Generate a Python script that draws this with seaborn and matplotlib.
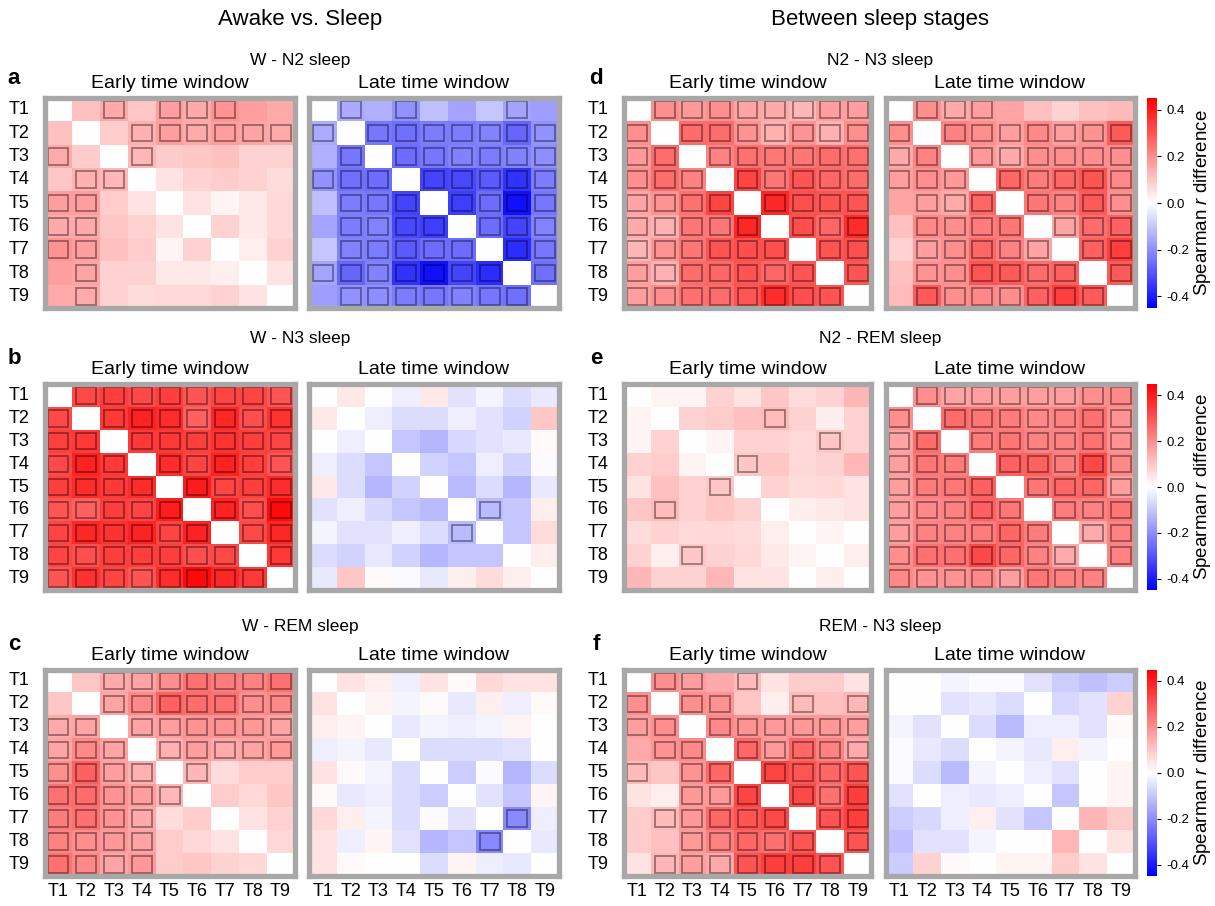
import numpy as np
import matplotlib
matplotlib.use("Agg")
from matplotlib import pyplot as plt
from matplotlib.patches import Rectangle
import seaborn as sns

plt.rcParams['font.family'] = ['Liberation Sans', 'DejaVu Sans']
plt.rcParams['mathtext.fontset'] = 'custom'
plt.rcParams['mathtext.it'] = 'Liberation Sans:italic'

labels = ['T1', 'T2', 'T3', 'T4', 'T5', 'T6', 'T7', 'T8', 'T9']

# upper triangles (row i holds cols i+1..9) of the spearman r difference
a_early = [[0.11, 0.15, 0.10, 0.17, 0.15, 0.19, 0.17, 0.15],
           [0.09, 0.14, 0.17, 0.15, 0.17, 0.16, 0.15],
           [0.13, 0.09, 0.10, 0.11, 0.08, 0.08],
           [0.05, 0.08, 0.09, 0.08, 0.06],
           [0.05, 0.02, 0.04, 0.07],
           [0.08, 0.04, 0.07],
           [0.03, 0.08],
           [0.05]]
a_late = [[-0.15, -0.14, -0.19, -0.11, -0.16, -0.10, -0.16, -0.17],
          [-0.24, -0.25, -0.23, -0.23, -0.22, -0.27, -0.19],
          [-0.26, -0.24, -0.22, -0.23, -0.22, -0.20],
          [-0.33, -0.32, -0.29, -0.36, -0.23],
          [-0.34, -0.26, -0.42, -0.24],
          [-0.26, -0.33, -0.22],
          [-0.37, -0.24],
          [-0.25]]
b_early = [[0.32, 0.34, 0.32, 0.34, 0.30, 0.33, 0.33, 0.30],
           [0.35, 0.39, 0.37, 0.28, 0.38, 0.31, 0.36],
           [0.35, 0.35, 0.34, 0.36, 0.34, 0.33],
           [0.37, 0.33, 0.39, 0.34, 0.30],
           [0.40, 0.33, 0.34, 0.37],
           [0.39, 0.31, 0.43],
           [0.32, 0.38],
           [0.35]]
b_late = [[0.04, 0.00, -0.03, 0.04, -0.05, -0.02, -0.06, -0.04],
          [-0.03, -0.06, -0.06, -0.03, -0.05, -0.08, 0.10],
          [-0.10, -0.13, -0.07, -0.05, -0.04, 0.01],
          [-0.08, -0.10, -0.03, -0.08, -0.01],
          [-0.12, -0.06, -0.13, -0.04],
          [-0.12, -0.10, 0.03],
          [-0.10, 0.06],
          [0.03]]
c_early = [[0.10, 0.15, 0.16, 0.20, 0.25, 0.23, 0.22, 0.25],
           [0.16, 0.21, 0.28, 0.26, 0.25, 0.20, 0.21],
           [0.16, 0.17, 0.19, 0.19, 0.18, 0.16],
           [0.14, 0.17, 0.15, 0.16, 0.18],
           [0.13, 0.06, 0.09, 0.09],
           [0.09, 0.07, 0.10],
           [0.05, 0.08],
           [0.07]]
c_late = [[0.05, 0.03, -0.03, 0.05, 0.01, 0.07, 0.05, 0.05],
          [0.02, -0.02, 0.01, -0.04, 0.03, -0.03, 0.01],
          [-0.04, -0.02, -0.03, -0.02, 0.02, 0.00],
          [-0.06, -0.06, -0.06, -0.05, 0.00],
          [-0.09, -0.01, -0.13, -0.06],
          [-0.05, -0.10, 0.02],
          [-0.21, -0.03],
          [-0.04]]
d_early = [[0.20, 0.18, 0.20, 0.16, 0.15, 0.13, 0.17, 0.17],
           [0.26, 0.26, 0.19, 0.14, 0.19, 0.14, 0.20],
           [0.22, 0.25, 0.24, 0.24, 0.26, 0.25],
           [0.33, 0.24, 0.30, 0.27, 0.26],
           [0.38, 0.31, 0.30, 0.30],
           [0.31, 0.27, 0.37],
           [0.30, 0.31],
           [0.30]]
d_late = [[0.20, 0.15, 0.17, 0.16, 0.11, 0.08, 0.11, 0.12],
          [0.22, 0.20, 0.17, 0.21, 0.17, 0.19, 0.29],
          [0.18, 0.15, 0.20, 0.20, 0.20, 0.20],
          [0.27, 0.23, 0.27, 0.30, 0.21],
          [0.24, 0.22, 0.29, 0.20],
          [0.16, 0.26, 0.28],
          [0.28, 0.34],
          [0.29]]
e_early = [[0.02, 0.02, 0.08, 0.05, 0.10, 0.06, 0.08, 0.13],
           [0.08, 0.09, 0.11, 0.12, 0.08, 0.03, 0.08],
           [0.02, 0.08, 0.08, 0.07, 0.10, 0.08],
           [0.10, 0.10, 0.07, 0.08, 0.13],
           [0.08, 0.06, 0.07, 0.05],
           [0.03, 0.04, 0.05],
           [0.02, 0.00],
           [0.03]]
e_late = [[0.20, 0.16, 0.17, 0.17, 0.17, 0.17, 0.20, 0.21],
          [0.26, 0.24, 0.23, 0.21, 0.22, 0.25, 0.19],
          [0.23, 0.24, 0.22, 0.22, 0.25, 0.19],
          [0.28, 0.28, 0.23, 0.32, 0.21],
          [0.24, 0.27, 0.27, 0.17],
          [0.23, 0.22, 0.24],
          [0.15, 0.22],
          [0.22]]
f_early = [[0.20, 0.17, 0.15, 0.12, 0.05, 0.09, 0.09, 0.05],
           [0.20, 0.19, 0.10, 0.03, 0.12, 0.11, 0.13],
           [0.21, 0.19, 0.18, 0.18, 0.18, 0.17],
           [0.27, 0.18, 0.27, 0.22, 0.15],
           [0.33, 0.30, 0.27, 0.30],
           [0.32, 0.25, 0.34],
           [0.30, 0.34],
           [0.30]]
f_late = [[0.00, -0.02, -0.01, -0.01, -0.05, -0.09, -0.11, -0.09],
          [-0.05, -0.04, -0.06, 0.00, -0.07, -0.05, 0.08],
          [-0.06, -0.12, -0.03, -0.03, -0.05, 0.01],
          [-0.02, -0.04, 0.03, -0.02, 0.00],
          [-0.03, -0.05, 0.00, 0.02],
          [-0.10, 0.00, 0.02],
          [0.13, 0.09],
          [0.05]]

# significant pairs, upper triangle, same layout as above
all_sig = ['11111111', '1111111', '111111', '11111', '1111', '111', '11', '1']
no_sig = ['00000000', '0000000', '000000', '00000', '0000', '000', '00', '0']
sig_a_early = ['01011100', '0111111', '100000', '00000', '0000', '000', '00', '0']
sig_a_late = ['10100010', '1111111', '111111', '11111', '1111', '111', '11', '1']
sig_b_early = all_sig
sig_b_late = ['00000000', '0000000', '000000', '00000', '0000', '100', '00', '0']
sig_c_early = ['01111111', '1111111', '111111', '11111', '1000', '000', '00', '0']
sig_c_late = ['00000000', '0000000', '000000', '00000', '0000', '000', '10', '0']
sig_d_early = all_sig
sig_d_late = ['11100000', '1111111', '111111', '11111', '1111', '111', '11', '1']
sig_e_early = ['00000000', '0001000', '000010', '10000', '0000', '000', '00', '0']
sig_e_late = all_sig
sig_f_early = ['11010000', '1100101', '111111', '11111', '1111', '111', '11', '1']
sig_f_late = no_sig

comparisons = ['W - N2 sleep', 'W - N3 sleep', 'W - REM sleep',
               'N2 - N3 sleep', 'N2 - REM sleep', 'REM - N3 sleep']
letters = ['a', 'b', 'c', 'd', 'e', 'f']
early = [a_early, b_early, c_early, d_early, e_early, f_early]
late = [a_late, b_late, c_late, d_late, e_late, f_late]
sig_early = [sig_a_early, sig_b_early, sig_c_early, sig_d_early, sig_e_early, sig_f_early]
sig_late = [sig_a_late, sig_b_late, sig_c_late, sig_d_late, sig_e_late, sig_f_late]


def full(upper):
    m = np.zeros((9, 9))
    for i, row in enumerate(upper):
        for k, v in enumerate(row):
            j = i + 1 + k
            m[i, j] = v
            m[j, i] = v
    return m


def sig_pairs(upper):
    pairs = []
    for i, row in enumerate(upper):
        for k, s in enumerate(row):
            if s == '1':
                j = i + 1 + k
                pairs.append((i, j))
                pairs.append((j, i))
    return pairs


W, H = 1215, 906
fig = plt.figure(figsize=(W / 100, H / 100), dpi=100)


def px_axes(x0, y0, w, h):
    return fig.add_axes([x0 / W, 1 - (y0 + h) / H, w / W, h / H])


col_x = [[44.5, 309], [623.5, 885.5]]
col_w = [[250, 250], [248, 249]]
row_y = [(98, 210), (384, 206), (669.5, 206.5)]
title_y = [60, 338, 627]
letter_y = [78, 358, 645]

for p in range(6):
    side = p // 3
    r = p % 3
    top, h = row_y[r]
    for w_i, (data, sig, name) in enumerate([(early[p], sig_early[p], 'Early time window'),
                                             (late[p], sig_late[p], 'Late time window')]):
        ax = px_axes(col_x[side][w_i], top, col_w[side][w_i], h)
        sns.heatmap(full(data), ax=ax, cmap='bwr', vmin=-0.45, vmax=0.45, cbar=False,
                    xticklabels=labels, yticklabels=labels, linewidths=0)
        for (i, j) in sig_pairs(sig):
            ax.add_patch(Rectangle((j + 0.14, i + 0.14), 0.72, 0.72, fill=False,
                                   edgecolor=(0, 0, 0, 0.4), lw=1.3, zorder=2))
        for s in ax.spines.values():
            s.set_visible(True)
            s.set_color('#a8a8a8')
            s.set_linewidth(3.8)
        ax.set_title(name, fontsize=14, pad=7)
        ax.tick_params(length=0, labelsize=13)
        ax.tick_params(axis='y', pad=11)
        ax.tick_params(axis='x', pad=5)
        ax.set_yticklabels(labels, rotation=0)
        ax.set_xticklabels(labels, rotation=0)
        if w_i == 1:
            ax.set_yticklabels([])
        if r != 2:
            ax.set_xticklabels([])
        if side == 1 and w_i == 1:
            cax = px_axes(1147, top, 10, h)
            cb = fig.colorbar(ax.collections[0], cax=cax, ticks=[-0.4, -0.2, 0, 0.2, 0.4],
                              format='%.1f')
            cb.outline.set_visible(False)
            cb.ax.tick_params(labelsize=9.5, length=3, width=0.8)
            cb.set_label('Spearman $\\it{r}$ difference', fontsize=13.5, labelpad=2)

    cx = 300 if side == 0 else 880
    fig.text(cx / W, 1 - title_y[r] / H, comparisons[p], ha='center', va='center', fontsize=12.5)
    lx = 14 if side == 0 else 596
    fig.text(lx / W, 1 - letter_y[r] / H, letters[p], ha='center', va='center',
             fontsize=16, fontweight='bold')

fig.text(300 / W, 1 - 20 / H, 'Awake vs. Sleep', ha='center', va='center', fontsize=16)
fig.text(880 / W, 1 - 20 / H, 'Between sleep stages', ha='center', va='center', fontsize=16)

plt.savefig('out.png', dpi=100)
